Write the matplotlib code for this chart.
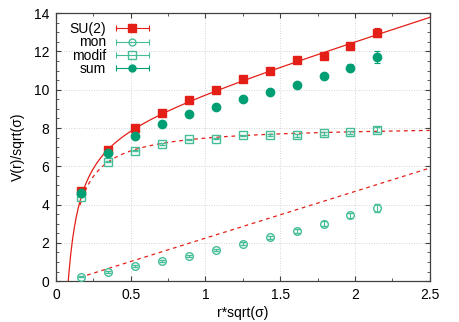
import matplotlib
matplotlib.use('Agg')
import matplotlib.pyplot as plt
import numpy as np
from matplotlib.lines import Line2D
from matplotlib.legend_handler import HandlerLine2D, HandlerTuple

plt.rcParams['font.family'] = ['Liberation Sans', 'DejaVu Sans']

# r*sqrt(sigma) of the lattice points
r = [0.17, 0.35, 0.53, 0.71, 0.89, 1.07, 1.25, 1.43, 1.61, 1.79, 1.97, 2.15]

su2 = [4.70, 6.84, 7.98, 8.76, 9.44, 9.98, 10.55, 10.97, 11.53, 11.76, 12.31, 12.99]
su2_err = [0.05, 0.05, 0.05, 0.05, 0.05, 0.05, 0.05, 0.06, 0.07, 0.08, 0.12, 0.25]
mon = [0.24, 0.49, 0.77, 1.04, 1.32, 1.64, 1.95, 2.28, 2.63, 3.01, 3.43, 3.83]
mon_err = [0.05, 0.05, 0.05, 0.05, 0.06, 0.06, 0.07, 0.08, 0.10, 0.12, 0.15, 0.20]
modif = [4.41, 6.23, 6.81, 7.16, 7.40, 7.45, 7.61, 7.63, 7.61, 7.72, 7.77, 7.91]
modif_err = [0.03, 0.03, 0.03, 0.04, 0.04, 0.05, 0.05, 0.05, 0.06, 0.06, 0.08, 0.12]
summ = [4.62, 6.67, 7.58, 8.19, 8.71, 9.09, 9.54, 9.89, 10.24, 10.71, 11.16, 11.72]
sum_err = [0.05, 0.05, 0.05, 0.05, 0.06, 0.06, 0.07, 0.08, 0.10, 0.12, 0.20, 0.30]

# fit parameters: V = sigma*r - alpha/r + c
fit_sigma = 2.44
fit_alpha = 0.668
fit_c = 7.946
fit_c_mon = -0.195
fit_c_modif = 8.14

RED = '#e41f17'
LIGHT = '#45bd98'
DARK = '#009e73'

fig = plt.figure(figsize=(4.59, 3.22), dpi=100)
ax = fig.add_axes([0.122, 0.127, 0.814, 0.832])

rr = np.linspace(0.05, 2.5, 400)
ax.plot(rr, fit_sigma * rr - fit_alpha / rr + fit_c, color=RED, lw=0.9, zorder=2)
rd = np.linspace(0.16, 2.5, 300)
ax.plot(rd, fit_c_modif - fit_alpha / rd, color=RED, lw=0.9, ls=(0, (3, 3)), zorder=2)
ax.plot(rd, fit_sigma * rd + fit_c_mon, color=RED, lw=0.9, ls=(0, (3, 3)), zorder=2)

kw = dict(linestyle='none', capsize=2, elinewidth=0.8, capthick=0.8, zorder=3)
ax.errorbar(r, su2, yerr=su2_err, color=RED, marker='s', ms=6, **kw)
ax.errorbar(r, mon, yerr=mon_err, color=LIGHT, marker='o', ms=5.5, mfc='none', mew=1, **kw)
ax.errorbar(r, modif, yerr=modif_err, color=LIGHT, marker='s', ms=6, mfc='none', mew=1, **kw)
ax.errorbar(r, summ, yerr=sum_err, color=DARK, marker='o', ms=6, **kw)

ax.set_xlim(0, 2.5)
ax.set_ylim(0, 14)
ax.set_xticks(np.arange(0, 2.51, 0.5))
ax.set_xticklabels(['0', '0.5', '1', '1.5', '2', '2.5'])
ax.set_yticks(np.arange(0, 14.1, 2))
ax.set_xticks(np.arange(0, 2.51, 0.25), minor=True)
ax.set_yticks(np.arange(0, 14.1, 0.5), minor=True)
ax.tick_params(which='both', direction='in', top=True, right=True, labelsize=10, color='#404040')
ax.tick_params(which='major', length=3.5, width=0.8, pad=5)
ax.tick_params(which='minor', length=2, width=0.6)
ax.grid(True, which='major', color='#c8c8c8', lw=0.6, ls=(0, (1, 2)))
for s in ax.spines.values():
    s.set_linewidth(0.9)
    s.set_color('#404040')

ax.set_xlabel('r*sqrt(σ)', fontsize=10, labelpad=3)
ax.set_ylabel('V(r)/sqrt(σ)', fontsize=10, labelpad=6)

# gnuplot-like legend: label, then line with error caps and marker
handles = []
hmap = {}
for col, mk, filled in [(RED, 's', True), (LIGHT, 'o', False), (LIGHT, 's', False), (DARK, 'o', True)]:
    caps = Line2D([], [], color=col, lw=0.8, marker='|', ms=4, mew=0.8)
    pt = Line2D([], [], color=col, ls='none', marker=mk, ms=5.5 if mk == 's' else 5,
                mfc=col if filled else 'none', mew=1)
    hmap[caps] = HandlerLine2D(numpoints=2)
    handles.append((caps, pt))
hmap[tuple] = HandlerTuple(ndivide=1, pad=0)
leg = ax.legend(handles, ['SU(2)', 'mon', 'modif', 'sum'], handler_map=hmap,
                loc='upper left', bbox_to_anchor=(0.015, 0.995), frameon=False,
                markerfirst=False, fontsize=10, handlelength=3.0,
                handletextpad=0.4, labelspacing=-0.05, borderaxespad=0.15,
                numpoints=1)

fig.savefig('out.png', dpi=100)
